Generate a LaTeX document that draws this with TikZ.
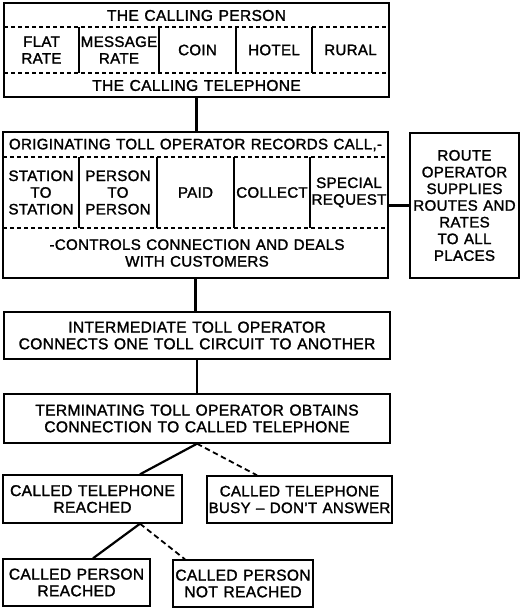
\documentclass[tikz,border=0pt]{standalone}
\usepackage{fontspec}
\setmainfont{Liberation Sans}[LetterSpace=2,FakeBold=1.6,WordSpace=1.2]
\tikzset{
  box/.style={draw,line width=1.4pt,minimum width=#1,inner sep=0pt},
  txt/.style={align=center,inner sep=0pt,font=\fontsize{15.6}{16.7}\selectfont},
  cell/.style={txt,font=\fontsize{15.1}{16.7}\selectfont},
  sep/.style={line width=1.2pt,dash pattern=on 4pt off 3pt},
  div/.style={line width=1.2pt},
  link/.style={line width=2.2pt},
  maybe/.style={line width=1.8pt,dash pattern=on 5.5pt off 3.5pt},
}
\begin{document}
\begin{tikzpicture}[x=1pt,y=-1pt]
\useasboundingbox (0,0) rectangle (526,610);
% Box 1
\node[box=385pt,minimum height=94pt] (caller) at (196.5,50) {};
\draw[sep] (4,27) -- (389,27);
\draw[sep] (4,73) -- (389,73);
\foreach \x in {79,159,236,312} \draw[div] (\x,27) -- (\x,73);
\node[txt] (cperson) at (196.5,15.5) {THE CALLING PERSON};
\node[cell] (flat) at (41.5,50) {FLAT\\RATE};
\node[cell] (msg) at (119,50) {MESSAGE\\RATE};
\node[cell] (coin) at (197.5,50) {COIN};
\node[cell] (hotel) at (274,50) {HOTEL};
\node[cell] (rural) at (350.5,50) {RURAL};
\node[txt] (ctel) at (196.5,85.5) {THE CALLING TELEPHONE};
% Box 2
\node[box=385pt,minimum height=146pt] (orig) at (195.5,205) {};
\draw[sep] (3,157) -- (388,157);
\draw[sep] (3,228) -- (388,228);
\foreach \x in {79,157,234,310} \draw[div] (\x,157) -- (\x,228);
\node[cell] (records) at (195.5,145) {ORIGINATING TOLL OPERATOR RECORDS CALL,-};
\node[cell] (s2s) at (41,192.5) {STATION\\TO\\STATION};
\node[cell] (p2p) at (118,192.5) {PERSON\\TO\\PERSON};
\node[cell] (paid) at (195.5,192.5) {PAID};
\node[cell] (collect) at (272,192.5) {COLLECT};
\node[cell] (special) at (349,192.5) {SPECIAL\\REQUEST};
\node[cell] (controls) at (197,253) {-CONTROLS CONNECTION AND DEALS\\WITH CUSTOMERS};
% Route box
\node[box=109pt,minimum height=145pt,cell] (route) at (464.5,205.5) {ROUTE\\OPERATOR\\SUPPLIES\\ROUTES AND\\RATES\\TO ALL\\PLACES};
% Lower boxes
\node[box=386pt,minimum height=47pt,txt] (inter) at (197,335.5) {INTERMEDIATE TOLL OPERATOR\\CONNECTS ONE TOLL CIRCUIT TO ANOTHER};
\node[box=386pt,minimum height=49pt,txt] (term) at (197,418.5) {TERMINATING TOLL OPERATOR OBTAINS\\CONNECTION TO CALLED TELEPHONE};
\node[box=179pt,minimum height=48pt,txt] (telreached) at (92.5,499) {CALLED TELEPHONE\\REACHED};
\node[box=185pt,minimum height=47pt,cell] (busy) at (299.5,499.5) {CALLED TELEPHONE\\BUSY – DON’T ANSWER};
\node[box=147pt,minimum height=47pt,txt] (preached) at (76.5,582.5) {CALLED PERSON\\REACHED};
\node[box=140pt,minimum height=47pt,txt] (pnot) at (243,583.5) {CALLED PERSON\\NOT REACHED};
% Connectors
\draw[link] (caller.south) -- (caller.south |- orig.north);
\draw[link] (orig.east |- route.west) -- (route.west);
\draw[link] (orig.south) -- (orig.south |- inter.north);
\draw[link] (inter.south) -- (inter.south |- term.north);
\draw[link] (term.south) -- ([xshift=47.5pt]telreached.north);
\draw[maybe] (term.south) -- ([xshift=-42.5pt]busy.north);
\draw[link] ([xshift=47.5pt]telreached.south) -- ([xshift=16.5pt]preached.north);
\draw[maybe] ([xshift=47.5pt]telreached.south) -- ([xshift=-58pt]pnot.north);
\end{tikzpicture}
\end{document}
